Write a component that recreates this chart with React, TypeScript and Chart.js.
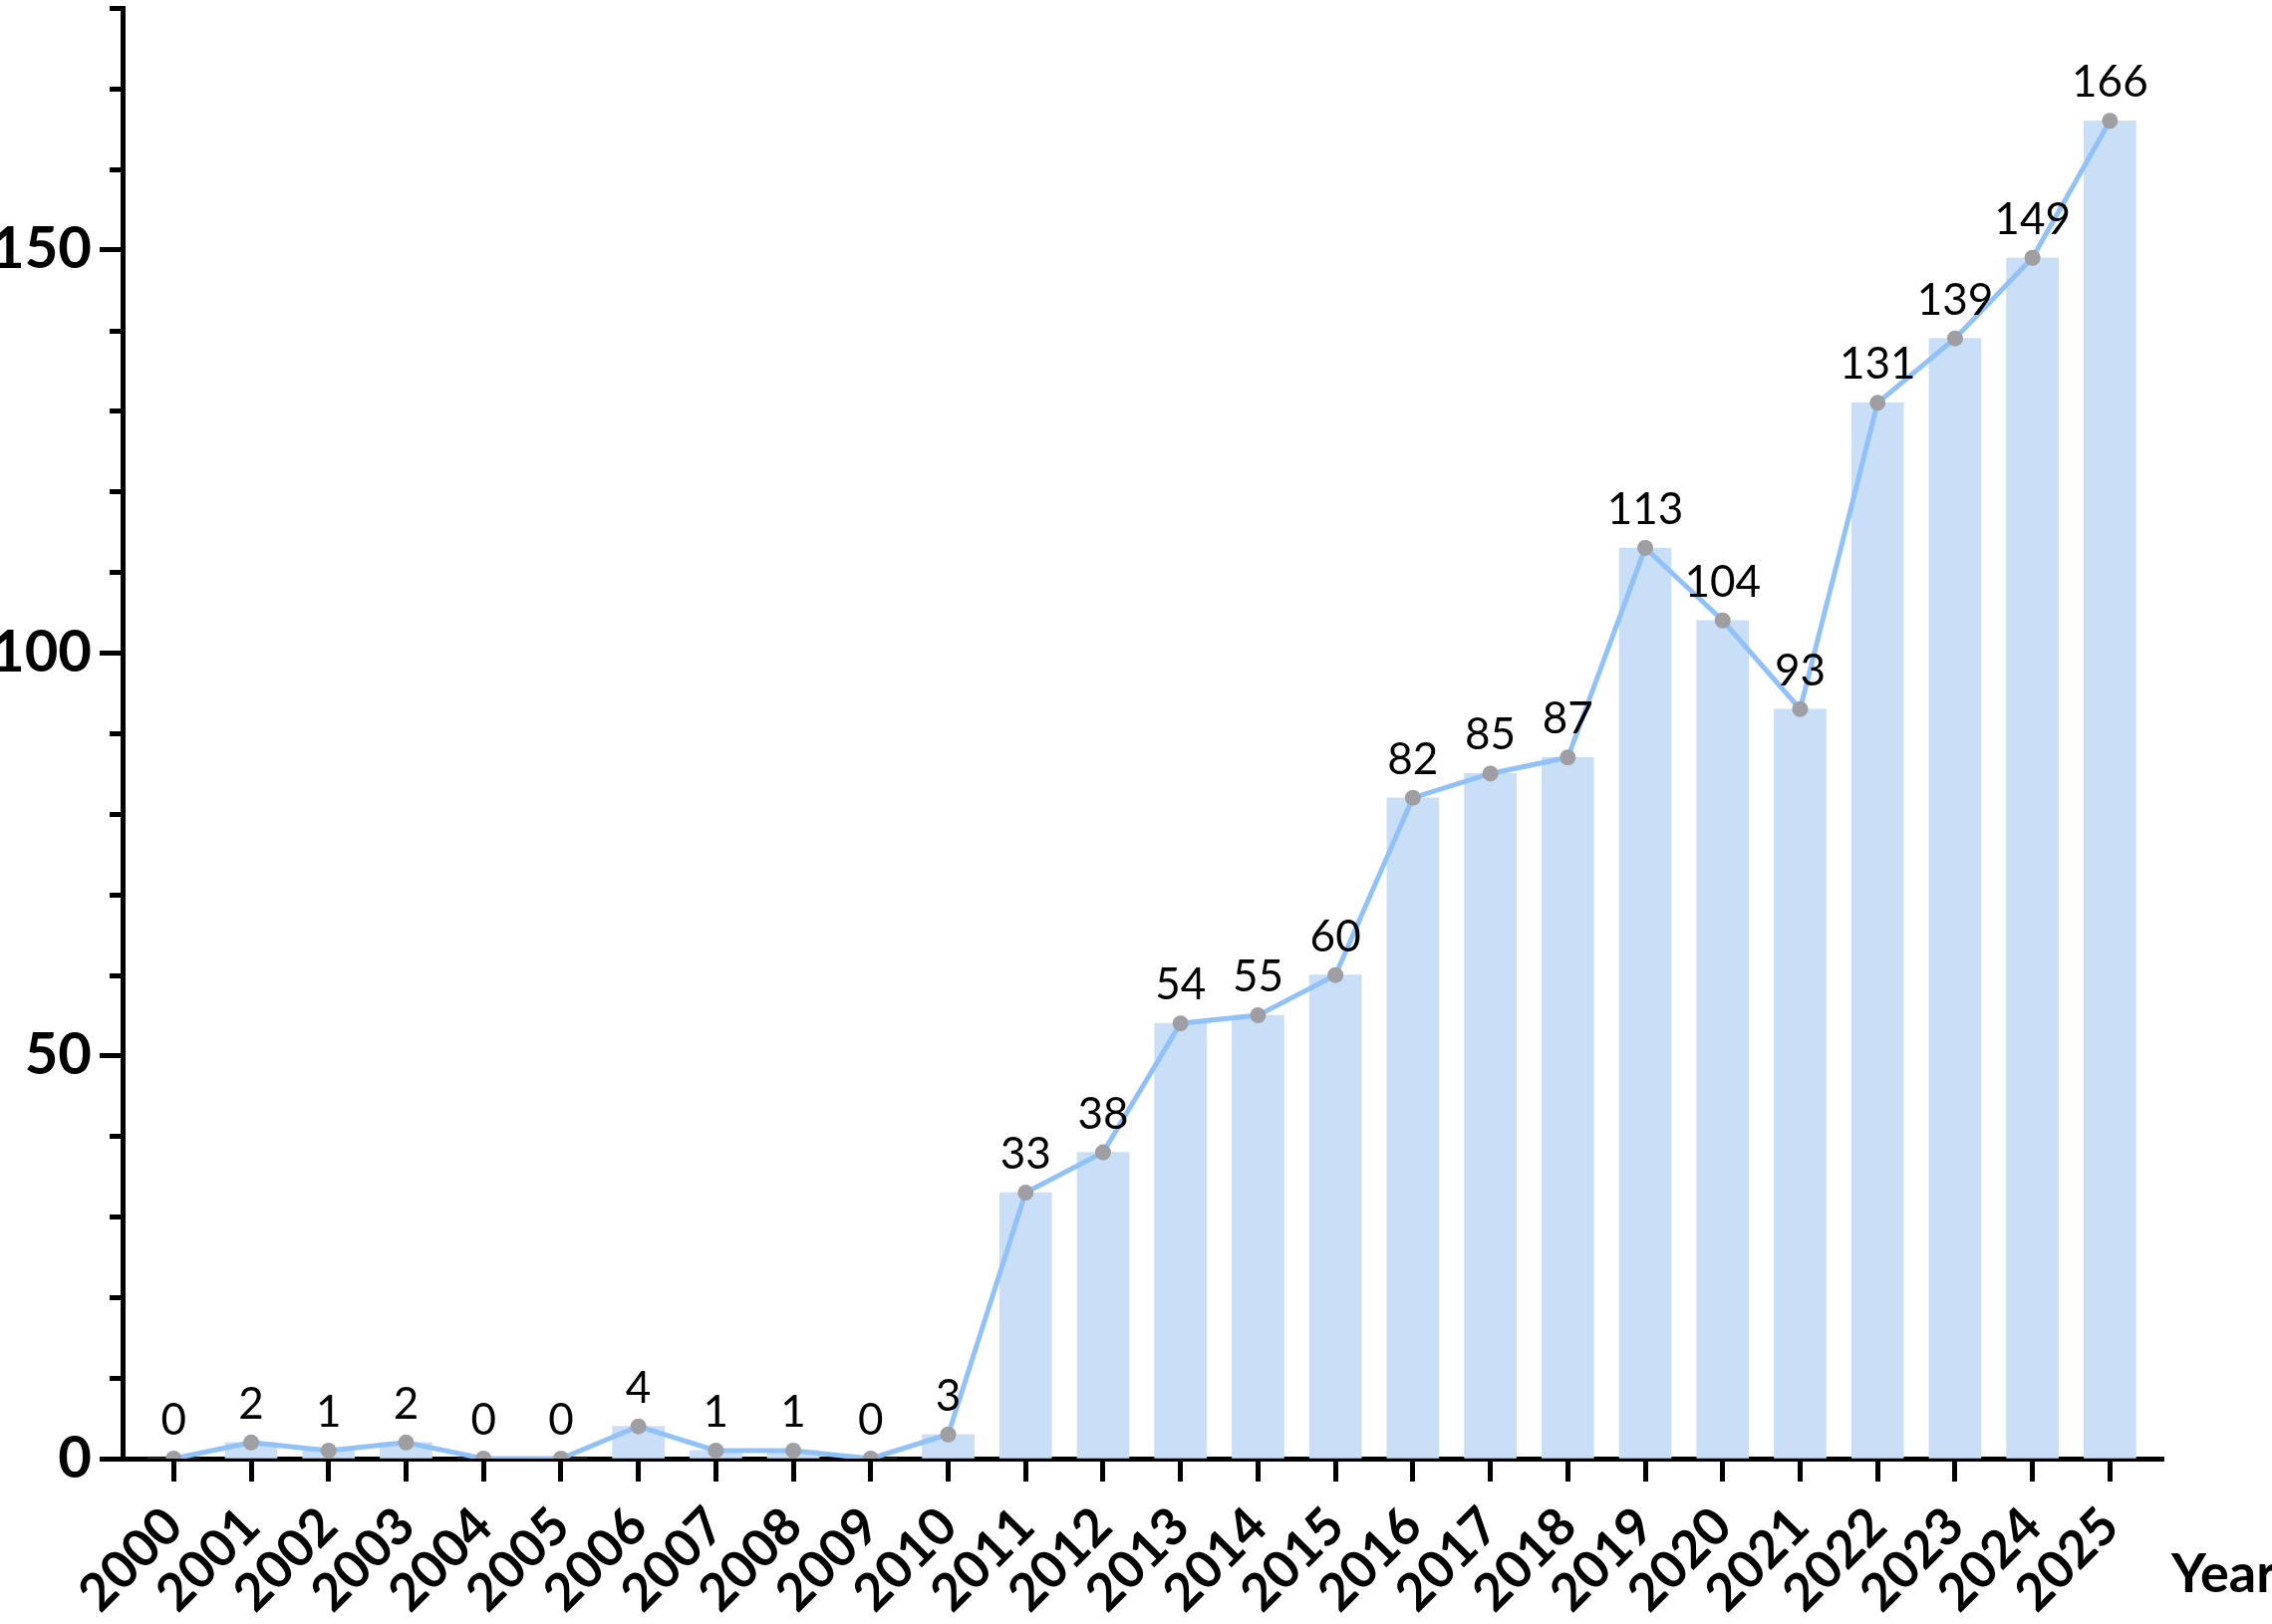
import React, { useEffect, useRef } from 'react'
import { Chart, registerables, Plugin } from 'chart.js'

Chart.register(...registerables)

// data
const years = [
  '2000', '2001', '2002', '2003', '2004', '2005', '2006', '2007', '2008',
  '2009', '2010', '2011', '2012', '2013', '2014', '2015', '2016', '2017',
  '2018', '2019', '2020', '2021', '2022', '2023', '2024', '2025',
]
const counts = [
  0, 2, 1, 2, 0, 0, 4, 1, 1, 0, 3, 33, 38, 54, 55, 60, 82, 85, 87, 113, 104,
  93, 131, 139, 149, 166,
]
const yMajorStep = 50
const yMinorStep = 10
const yMax = 180
const xTitle = 'Year'

const FONT = 'Lato'

// small ticks between the labelled ones on the y axis
const minorTicks: Plugin<'bar'> = {
  id: 'minorTicks',
  afterDraw(chart) {
    const { ctx, chartArea } = chart
    const y = chart.scales.y
    ctx.save()
    ctx.strokeStyle = '#000'
    ctx.lineWidth = 5
    for (let v = 0; v <= yMax; v += yMinorStep) {
      if (v % yMajorStep === 0) continue
      const py = Math.round(y.getPixelForValue(v)) + 0.5
      ctx.beginPath()
      ctx.moveTo(chartArea.left - 13, py)
      ctx.lineTo(chartArea.left, py)
      ctx.stroke()
    }
    ctx.restore()
  },
}

// numbers above each point of the line
const valueLabels: Plugin<'bar'> = {
  id: 'valueLabels',
  afterDatasetsDraw(chart) {
    const { ctx } = chart
    const meta = chart.getDatasetMeta(1)
    ctx.save()
    ctx.font = `44px ${FONT}`
    ctx.fillStyle = '#000'
    ctx.textAlign = 'center'
    ctx.textBaseline = 'alphabetic'
    meta.data.forEach((pt, i) => {
      ctx.fillText(String(counts[i]), pt.x, pt.y - 24)
    })
    ctx.restore()
  },
}

// "Year" at the right end of the x axis
const axisTitle: Plugin<'bar'> = {
  id: 'axisTitle',
  afterDraw(chart) {
    const { ctx, chartArea } = chart
    ctx.save()
    ctx.font = `bold 54px ${FONT}`
    ctx.fillStyle = '#000'
    ctx.textAlign = 'left'
    ctx.textBaseline = 'alphabetic'
    ctx.fillText(xTitle, chartArea.right + 8, chartArea.bottom + 134)
    ctx.restore()
  },
}

const App: React.FC = () => {
  const canvasRef = useRef<HTMLCanvasElement>(null)
  const chartRef = useRef<Chart | null>(null)

  useEffect(() => {
    document.body.style.margin = '0'
    if (!canvasRef.current) return

    const points = counts.map((v, i) => ({ x: i, y: v }))

    chartRef.current = new Chart(canvasRef.current, {
      type: 'bar',
      data: {
        datasets: [
          {
            type: 'bar',
            label: 'Publications',
            data: points,
            backgroundColor: '#c9def7',
            barThickness: 52,
            order: 2,
          },
          {
            type: 'line',
            label: 'Trend',
            data: points,
            borderColor: '#91c1f9',
            borderWidth: 5,
            pointRadius: 8,
            pointBackgroundColor: '#9e9ea3',
            pointBorderWidth: 0,
            tension: 0,
            order: 1,
          },
        ],
      },
      options: {
        responsive: false,
        devicePixelRatio: 1,
        animation: false,
        layout: { padding: { top: 3, right: 109, left: 0, bottom: 0 } },
        plugins: {
          legend: { display: false },
          tooltip: { enabled: false },
        },
        scales: {
          x: {
            type: 'linear',
            offset: false,
            min: -0.66,
            max: 25.69,
            afterBuildTicks: (scale) => {
              scale.ticks = scale.ticks.filter(
                (t) => Number.isInteger(t.value) && t.value >= 0 && t.value < years.length
              )
            },
            afterFit: (scale) => {
              scale.height = 166
              scale.paddingLeft = 0
              scale.paddingRight = 0
            },
            ticks: {
              stepSize: 1,
              includeBounds: false,
              autoSkip: false,
              minRotation: 45,
              maxRotation: 45,
              padding: 14,
              color: '#000',
              font: { family: FONT, size: 52, weight: 'bold' },
              callback: (v) => years[Number(v)] ?? '',
            },
            grid: {
              offset: false,
              drawOnChartArea: false,
              drawTicks: true,
              tickLength: 23,
              tickWidth: 5,
              tickColor: '#000',
            },
            border: { display: true, width: 5, color: '#000' },
          },
          y: {
            min: 0,
            max: yMax,
            afterBuildTicks: (scale) => {
              scale.ticks = scale.ticks.filter((t) => t.value % yMajorStep === 0)
            },
            afterFit: (scale) => {
              scale.width = 123
              scale.paddingTop = 0
              scale.paddingBottom = 0
            },
            ticks: {
              stepSize: yMinorStep,
              padding: 8,
              color: '#000',
              font: { family: FONT, size: 58, weight: 'bold' },
            },
            grid: {
              drawOnChartArea: false,
              drawTicks: true,
              tickLength: 23,
              tickWidth: 5,
              tickColor: '#000',
            },
            border: { display: true, width: 5, color: '#000' },
          },
        },
      },
      plugins: [minorTicks, valueLabels, axisTitle],
    })

    return () => {
      if (chartRef.current) {
        chartRef.current.destroy()
        chartRef.current = null
      }
    }
  }, [])

  return (
    <div style={{ width: '2280px', height: '1630px', background: '#fff' }}>
      <canvas ref={canvasRef} width={2280} height={1630} style={{ width: '2280px', height: '1630px' }} />
    </div>
  )
}

export default App
